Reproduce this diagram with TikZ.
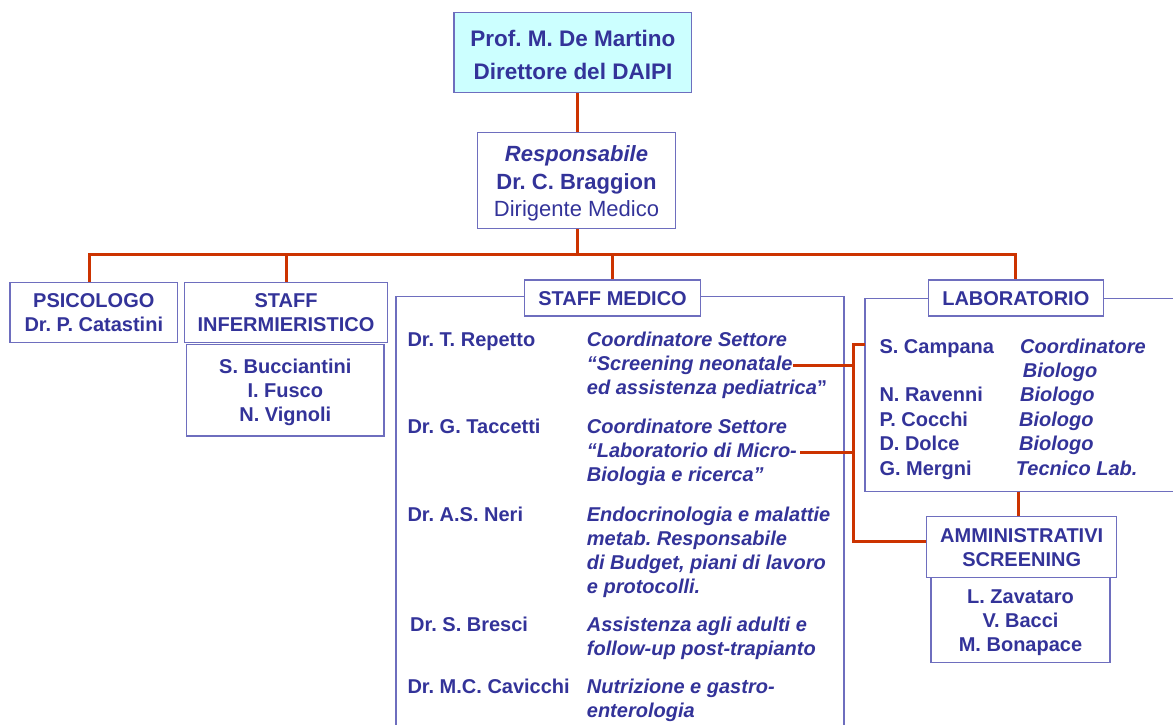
\documentclass[tikz,border=0pt]{standalone}
\usepackage{fontspec}
\setmainfont{Liberation Sans}
\usetikzlibrary{positioning}
\frenchspacing
\definecolor{txtblue}{HTML}{333399}
\definecolor{boxblue}{HTML}{6E6EBE}
\definecolor{linered}{HTML}{CC3300}
\definecolor{topfill}{HTML}{CCFFFF}
\newcommand{\orgstrut}{\rule[-4.8pt]{0pt}{24pt}}
\newcommand{\topstrut}{\rule[-5.8pt]{0pt}{33pt}}
\newcommand{\respstrut}{\rule[-4.8pt]{0pt}{27.4pt}}

\begin{document}
\begin{tikzpicture}[x=1pt, y=-1pt,
  orgbox/.style={draw=boxblue, line width=1.4pt, inner sep=0pt, align=center, text=txtblue,
    font=\fontsize{20}{24}\selectfont\bfseries},
  person/.style={anchor=base west, inner sep=0pt, text=txtblue, font=\fontsize{20}{24}\selectfont\bfseries},
  duty/.style={person, font=\fontsize{20}{24}\selectfont\bfseries\itshape},
  redline/.style={draw=linered, line width=3pt},
  framepath/.style={draw=boxblue, line width=1.4pt}]
\useasboundingbox (0,0) rectangle (1173,725);

% top of the chart
\node[orgbox, fill=topfill, minimum width=237.7pt, minimum height=79.6pt,
  font=\fontsize{22.5}{33}\selectfont\bfseries] (dir) at (572.9,52.5)
  {\topstrut Prof. M. De Martino\\\topstrut Direttore del DAIPI};
\node[orgbox, minimum width=198.4pt, minimum height=96pt, font=\fontsize{22}{27.4}\selectfont] (resp) at (576.5,180.3)
  {\respstrut\textbf{\textit{Responsabile}}\\\respstrut\textbf{Dr. C. Braggion}\\\respstrut Dirigente Medico};

% left boxes
\node[orgbox, minimum width=167.7pt, minimum height=60.4pt] (psi) at (93.8,312.5)
  {\orgstrut PSICOLOGO\\\orgstrut Dr. P. Catastini};
\node[orgbox, minimum width=203.4pt, minimum height=60.4pt] (inf) at (286,312.5)
  {\orgstrut STAFF\\\orgstrut INFERMIERISTICO};
\node[orgbox, minimum width=197.3pt, minimum height=91.5pt] (infsub) at (285.3,390.2)
  {\orgstrut S. Bucciantini\\\orgstrut I. Fusco\\\orgstrut N. Vignoli};

% staff medico
\draw[framepath] (396,725) -- (396,296.7) -- (844,296.7) -- (844,725);
\node[orgbox, fill=white, minimum width=176.4pt, minimum height=36pt] (med) at (612.5,298) {\orgstrut STAFF MEDICO};

\node[person] (rep) at (407.3,346.7) {Dr. T. Repetto};
\node[duty] (rep1) at (586.7,346.7) {Coordinatore Settore};
\node[duty] (rep2) at (586.7,370.3) {“Screening neonatale};
\node[duty] (rep3) at (586.7,394.5) {ed assistenza pediatrica{\upshape ”}};
\node[person] (tac) at (407.3,433.3) {Dr. G. Taccetti};
\node[duty] (tac1) at (586.7,433.3) {Coordinatore Settore};
\node[duty] (tac2) at (586.7,457) {“Laboratorio di Micro-};
\node[duty] (tac3) at (586.7,481.3) {Biologia e ricerca”};
\node[person] (neri) at (407.3,521) {Dr. A.S. Neri};
\node[duty] (neri1) at (586.7,521) {Endocrinologia e malattie};
\node[duty] (neri2) at (586.7,545) {metab. Responsabile};
\node[duty] (neri3) at (586.7,569) {di Budget, piani di lavoro};
\node[duty] (neri4) at (586.7,593.3) {e protocolli.};
\node[person] (bre) at (410,631.7) {Dr. S. Bresci};
\node[duty] (bre1) at (586.7,631.7) {Assistenza agli adulti e};
\node[duty] (bre2) at (586.7,655.7) {follow-up post-trapianto};
\node[person] (cav) at (407.3,693.3) {Dr. M.C. Cavicchi};
\node[duty] (cav1) at (586.7,693.3) {Nutrizione e gastro-};
\node[duty] (cav2) at (586.7,717.3) {enterologia};

% laboratorio
\draw[framepath] (1173,298.3) -- (865,298.3) -- (865,491.7) -- (1173,491.7);
\node[orgbox, fill=white, minimum width=175pt, minimum height=36pt] (lab) at (1015.8,298) {\orgstrut LABORATORIO};

\node[person] (camp) at (879.3,353.3) {S. Campana};
\node[duty] (camp1) at (1020,353.3) {Coordinatore};
\node[duty] (camp2) at (1022.7,377.5) {Biologo};
\node[person] (rav) at (879.3,401.7) {N. Ravenni};
\node[duty] (rav1) at (1020,401.7) {Biologo};
\node[person] (coc) at (879.3,426.3) {P. Cocchi};
\node[duty] (coc1) at (1019,426.3) {Biologo};
\node[person] (dol) at (879.3,450.7) {D. Dolce};
\node[duty] (dol1) at (1019,450.7) {Biologo};
\node[person] (mer) at (879.3,475) {G. Mergni};
\node[duty] (mer1) at (1015.7,475) {Tecnico Lab.};

\node[orgbox, minimum width=190pt, minimum height=60.6pt] (amm) at (1021.7,547)
  {\orgstrut AMMINISTRATIVI\\\orgstrut SCREENING};
\node[orgbox, minimum width=179pt, minimum height=85pt] (ammsub) at (1020.5,619.8)
  {\orgstrut L. Zavataro\\\orgstrut V. Bacci\\\orgstrut M. Bonapace};

% red connectors
\coordinate (trunk) at (577.7,254);
\coordinate (vtop) at (853.3,344);
\coordinate (vbot) at (853.3,541.7);
\coordinate (labin) at (865,344);
\coordinate (labbot) at (1018.3,491.7);

\draw[redline] (dir.south -| trunk) -- (resp.north -| trunk);
\draw[redline] (resp.south -| trunk) -- (trunk);
\draw[redline] ([xshift=-4.5pt]psi.north) |- (lab.north |- trunk) -- (lab.north);
\draw[redline] (inf.north) -- (inf.north |- trunk);
\draw[redline] (med.north) -- (med.north |- trunk);
\draw[redline] (labin) -- (vtop) -- (vbot) -- (vbot -| amm.west);
\draw[redline] (rep2.east) -- (rep2.east -| vtop);
\draw[redline] ([xshift=3pt,yshift=4.4pt]tac2.base east) coordinate (micro) -- (micro -| vtop);
\draw[redline] (labbot) -- (labbot |- amm.north);
\end{tikzpicture}
\end{document}
